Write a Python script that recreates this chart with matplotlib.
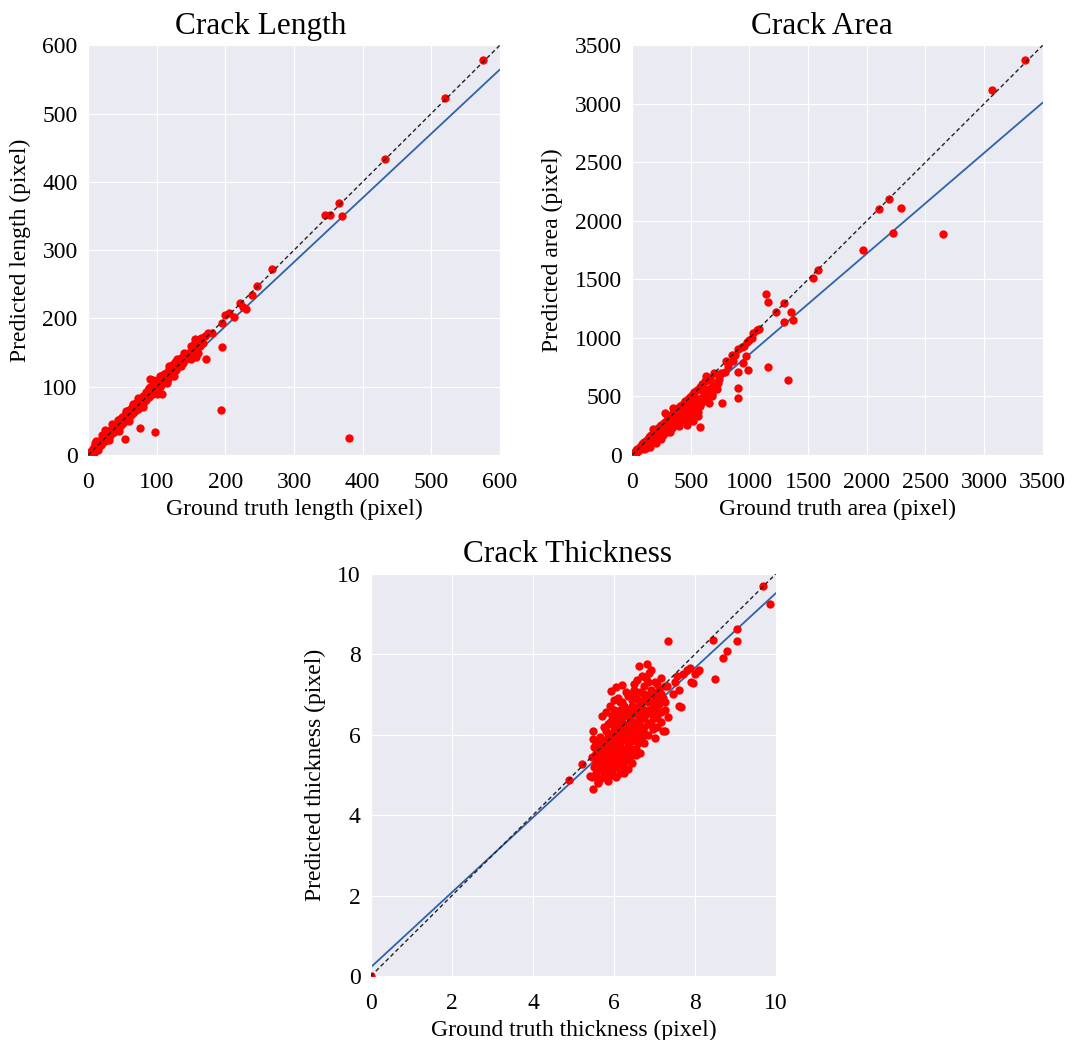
import numpy as np
import matplotlib
matplotlib.use("Agg")
import matplotlib.pyplot as plt
import seaborn as sns

# ---- data ----
# crack length (pixel): ground truth vs predicted
len_true = [1, 2, 3, 4, 5, 6, 7, 8, 9, 10, 11, 12, 13, 14, 15, 16, 17, 18, 19, 20,
            21, 22, 23, 24, 25, 26, 27, 28, 29, 30, 31, 32, 33, 34, 35, 36, 37, 38, 39, 40,
            41, 42, 43, 44, 45, 46, 47, 48, 50, 51, 53, 54, 55, 57, 58, 60, 61, 63, 64, 66,
            67, 69, 70, 72, 73, 75, 76, 78, 80, 82, 84, 85, 87, 89, 90, 92, 94, 96, 98, 100,
            102, 104, 106, 108, 110, 112, 114, 116, 118, 120, 122, 124, 126, 128, 130, 132,
            135, 138, 140, 142, 145, 148, 150, 153, 155, 158, 160, 163, 165, 168, 170, 175,
            10, 25, 44, 54, 59, 76, 73, 88, 90, 98, 107, 112, 124, 129, 141, 157, 172, 181,
            195, 193, 195, 199, 205, 212, 221, 225, 230, 239, 246, 268, 345, 352, 366, 370,
            380, 433, 520, 575,
            20, 30, 35, 45, 55, 60, 65, 80, 95, 100, 105, 115, 118, 125, 135, 140, 150, 155,
            160, 8, 12, 15]
len_pred = [2, 1, 5, 3, 8, 4, 9, 6, 12, 7, 14, 9, 16, 11, 18, 13, 20, 15, 22, 17,
            25, 19, 27, 21, 29, 23, 30, 25, 33, 27, 35, 29, 37, 31, 39, 33, 41, 34, 44, 37,
            46, 38, 48, 40, 50, 42, 52, 44, 55, 47, 58, 50, 61, 53, 63, 56, 66, 59, 70, 62,
            72, 65, 76, 68, 79, 71, 82, 74, 87, 78, 92, 81, 95, 85, 100, 88, 103, 92, 107, 96,
            110, 100, 115, 104, 118, 108, 120, 112, 126, 116, 132, 120, 136, 124, 140, 130,
            142, 134, 146, 140, 150, 144, 160, 150, 170, 156, 168, 160, 172, 164, 174, 178,
            18, 37, 51, 23, 66, 40, 83, 98, 112, 33, 90, 115, 122, 137, 144, 143, 140, 179,
            158, 66, 193, 205, 208, 202, 222, 216, 214, 235, 247, 272, 352, 352, 369, 350,
            25, 433, 523, 578,
            30, 22, 45, 35, 65, 50, 75, 70, 110, 90, 115, 105, 130, 115, 130, 150, 140, 165,
            150, 3, 20, 8]
len_fit = [0.94, 0.5]  # slope, intercept of the blue line

# crack area (pixel)
area_true = [5, 10, 15, 20, 25, 30, 35, 40, 45, 50, 55, 60, 65, 70, 75, 80, 85, 90, 95, 100,
             105, 110, 115, 120, 125, 130, 135, 140, 145, 150, 155, 160, 165, 170, 175, 180,
             185, 190, 195, 200, 205, 210, 215, 220, 225, 230, 240, 245, 250, 255, 260, 265,
             270, 275, 280, 290, 295, 300, 310, 315, 320, 330, 335, 340, 350, 355, 365, 370,
             380, 385, 395, 400, 410, 415, 425, 430, 440, 450, 455, 465, 475, 480, 490, 500,
             510, 520, 530, 540, 550, 560, 575, 585, 600, 610, 625, 640, 660, 680, 700, 720,
             120, 150, 200, 250, 180, 281, 352, 466, 466, 560, 579, 630, 658, 679, 735, 764,
             792, 800, 849, 905, 934, 977, 1033, 1062, 905, 943, 971, 991, 905, 905, 1161,
             1331, 1138, 1161, 1224, 1294, 1357, 1297, 1374, 1544, 1581, 1965, 2106, 2186,
             2291, 2220, 2654, 3066, 3347,
             320, 380, 420, 450, 500, 520, 550, 600, 620, 650, 700, 740, 760, 820, 860, 880,
             950, 1000, 1020, 1080,
             100, 150, 200, 230, 260, 300, 340, 380, 400, 430, 470, 500, 540, 580, 610, 640,
             680, 300, 350, 420, 480, 530, 580, 650, 680, 720, 520, 560]
area_pred = [8, 6, 18, 12, 28, 20, 40, 30, 50, 38, 60, 45, 72, 55, 80, 62, 90, 70, 100, 80,
             110, 85, 120, 95, 130, 100, 140, 110, 150, 118, 160, 125, 170, 135, 180, 140,
             192, 150, 200, 160, 210, 165, 220, 175, 230, 180, 245, 190, 255, 200, 265, 210,
             275, 220, 285, 230, 300, 240, 315, 250, 325, 265, 340, 270, 355, 285, 370, 300,
             385, 310, 400, 320, 415, 335, 430, 350, 445, 365, 460, 380, 480, 395, 495, 410,
             515, 430, 535, 450, 555, 470, 580, 490, 605, 520, 630, 545, 660, 580, 700, 620,
             60, 90, 100, 140, 220, 356, 404, 327, 256, 370, 236, 674, 444, 506, 612, 447,
             711, 805, 854, 902, 925, 967, 1039, 1067, 711, 788, 848, 726, 569, 484, 749,
             640, 1372, 1303, 1221, 1295, 1218, 1135, 1150, 1508, 1579, 1753, 2103, 2183,
             2111, 1893, 1887, 3116, 3372,
             200, 260, 300, 330, 350, 380, 420, 450, 500, 560, 600, 650, 700, 760, 800, 850,
             930, 980, 1000, 1080,
             50, 70, 130, 150, 170, 200, 230, 280, 250, 300, 320, 380, 400, 420, 480, 500,
             540, 290, 330, 400, 460, 500, 560, 640, 520, 560, 290, 330]
area_fit = [0.86, 0.0]

# crack thickness (pixel)
thk_true = [5.45, 5.5, 5.45, 5.5, 5.55, 5.6, 5.6, 5.65, 5.65, 5.7, 5.7, 5.75, 5.75, 5.8,
            5.8, 5.8, 5.85, 5.85, 5.9, 5.9, 5.9, 5.95, 5.95, 6.0, 6.0, 6.0, 6.0, 6.05, 6.05,
            6.1, 6.1, 6.1, 6.15, 6.15, 6.2, 6.2, 6.2, 6.2, 6.25, 6.25, 6.3, 6.3, 6.3, 6.35,
            6.35, 6.4, 6.4, 6.4, 6.45, 6.45, 6.5, 6.5, 6.5, 6.55, 6.55, 6.6, 6.6, 6.6, 6.65,
            6.7, 6.7, 6.75, 6.75, 6.8, 6.8, 6.85, 6.9, 6.9, 6.95, 7.0, 7.0, 7.05, 7.1, 7.1,
            7.15, 7.2, 7.25,
            5.47, 5.47, 5.2, 4.9, 5.49, 5.61, 5.41, 6.81, 6.62, 6.87, 6.56, 6.19, 6.04, 5.93,
            6.15, 7.0, 7.26, 7.34, 7.66, 7.33, 9.03, 9.03, 8.78, 8.68, 8.45, 8.49, 8.08, 7.96,
            7.88, 9.68, 9.85, 0.0,
            7.3, 7.5, 7.6, 7.7, 7.8, 7.9, 8.0, 7.6, 7.2, 8.1, 7.45, 7.55,
            5.55, 5.55, 5.55, 5.55, 5.65, 5.65, 5.65, 5.65, 5.65,
            5.75, 5.75, 5.75, 5.75, 5.75, 5.85, 5.85, 5.85, 5.85, 5.85, 5.85,
            5.95, 5.95, 5.95, 5.95, 5.95, 5.95, 6.05, 6.05, 6.05, 6.05, 6.05, 6.05,
            6.15, 6.15, 6.15, 6.15, 6.15, 6.15, 6.25, 6.25, 6.25, 6.25, 6.25, 6.25,
            6.35, 6.35, 6.35, 6.35, 6.35, 6.35, 6.45, 6.45, 6.45, 6.45, 6.45, 6.45,
            6.55, 6.55, 6.55, 6.55, 6.55, 6.65, 6.65, 6.65, 6.65, 6.65, 6.65,
            6.75, 6.75, 6.75, 6.75, 6.75, 6.85, 6.85, 6.85, 6.85, 6.85,
            6.95, 6.95, 6.95, 6.95, 7.05, 7.05, 7.05, 7.05, 7.15, 7.15, 7.15, 7.25, 7.25,
            5.7, 5.9, 6.1, 6.3, 6.5, 6.7, 6.9, 5.8, 6.0, 6.4]
thk_pred = [4.95, 5.2, 5.45, 5.7, 5.05, 5.35, 4.8, 5.6, 5.9, 5.15, 5.4, 4.95, 5.75, 5.25,
            5.5, 6.1, 5.0, 5.85, 5.35, 5.6, 6.3, 5.1, 5.95, 5.45, 5.7, 6.2, 6.6, 5.2, 6.0,
            5.5, 5.8, 6.4, 5.05, 6.1, 5.4, 5.65, 6.3, 6.8, 5.9, 5.2, 5.55, 6.15, 6.55, 5.8,
            6.95, 5.35, 6.05, 6.4, 5.65, 6.7, 5.95, 6.25, 7.1, 5.5, 6.5, 6.1, 6.85, 5.8, 6.35,
            6.65, 5.95, 7.0, 6.2, 6.5, 7.4, 6.8, 6.3, 7.1, 6.6, 6.9, 7.3, 6.4, 6.75, 7.1,
            7.4, 6.9, 7.2,
            6.08, 5.9, 5.27, 4.88, 4.64, 4.81, 4.96, 7.75, 7.71, 7.54, 7.36, 7.24, 7.18, 7.07,
            6.82, 5.91, 6.08, 6.43, 6.68, 8.32, 8.63, 8.33, 8.07, 7.9, 8.34, 7.38, 7.57, 7.28,
            7.65, 9.7, 9.25, 0.0,
            7.2, 7.3, 7.1, 7.5, 7.6, 7.3, 7.5, 6.7, 6.1, 7.6, 7.0, 7.45,
            5.0, 5.3, 5.55, 5.8, 4.9, 5.2, 5.45, 5.7, 5.95,
            5.05, 5.3, 5.6, 5.85, 6.2, 4.85, 5.15, 5.4, 5.65, 5.95, 6.25,
            5.0, 5.3, 5.5, 5.8, 6.05, 6.45, 4.95, 5.35, 5.6, 5.85, 6.3, 6.5,
            5.25, 5.45, 5.75, 5.95, 6.25, 6.6, 5.05, 5.35, 5.6, 6.05, 6.45, 6.7,
            5.15, 5.5, 5.7, 5.95, 6.25, 6.6, 5.3, 5.5, 5.85, 6.15, 6.5, 6.85,
            5.65, 5.9, 6.3, 6.65, 6.95, 5.55, 6.0, 6.2, 6.5, 6.75, 7.05,
            5.8, 6.05, 6.4, 6.85, 7.2, 6.0, 6.25, 6.6, 6.95, 7.3,
            6.15, 6.45, 6.75, 7.05, 6.2, 6.6, 6.95, 7.25, 6.3, 6.55, 7.0, 6.6, 6.8,
            6.45, 6.7, 6.9, 7.05, 7.25, 7.45, 7.6, 6.55, 6.85, 7.0]
thk_fit = [0.93, 0.22]

sns.set_style("darkgrid")
plt.rcParams['font.family'] = ['Liberation Serif', 'DejaVu Serif']
for key in ['text.color', 'axes.labelcolor', 'xtick.color', 'ytick.color']:
    plt.rcParams[key] = 'black'

fig = plt.figure(figsize=(10.75, 10.4), dpi=100)
ax1 = fig.add_axes([0.082, 0.5625, 0.383, 0.394])
ax2 = fig.add_axes([0.588, 0.5625, 0.382, 0.394])
ax3 = fig.add_axes([0.345, 0.0615, 0.377, 0.387])

panels = [
    (ax1, len_true, len_pred, len_fit, 600, 100, 'Crack Length', 0.42,
     'Ground truth length (pixel)', 'Predicted length (pixel)'),
    (ax2, area_true, area_pred, area_fit, 3500, 500, 'Crack Area', 0.462,
     'Ground truth area (pixel)', 'Predicted area (pixel)'),
    (ax3, thk_true, thk_pred, thk_fit, 10, 2, 'Crack Thickness', 0.484,
     'Ground truth thickness (pixel)', 'Predicted thickness (pixel)'),
]

for ax, xs, ys, fit, top, step, title, tx, xlab, ylab in panels:
    ax.scatter(xs, ys, s=36, c='#ff0000', linewidths=0, zorder=3)
    ax.plot([0, top], [0, top], '--', color='#222222', linewidth=1.0, dashes=(3, 2), zorder=4)
    xx = np.array([0, top])
    ax.plot(xx, fit[0] * xx + fit[1], color='#2e62aa', linewidth=1.3, zorder=2)
    ax.set_xlim(0, top)
    ax.set_ylim(0, top)
    ax.set_xticks(np.arange(0, top + step, step))
    ax.set_yticks(np.arange(0, top + step, step))
    ax.tick_params(axis='x', labelsize=17, pad=9)
    ax.tick_params(axis='y', labelsize=17, pad=4)
    ax.set_title(title, fontsize=22.5, pad=8, x=tx)
    ax.set_xlabel(xlab, fontsize=17, labelpad=4)
    ax.set_ylabel(ylab, fontsize=17, labelpad=8)

fig.savefig('out.png', dpi=100)
